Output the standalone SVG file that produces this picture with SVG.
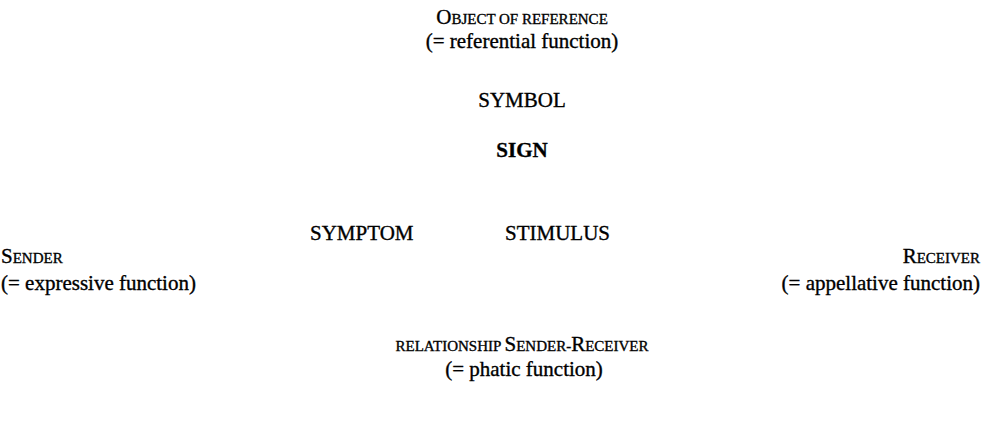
<svg xmlns="http://www.w3.org/2000/svg" width="990" height="430" viewBox="0 0 990 430">
<style>
text{font-family:'Liberation Serif','Times New Roman',serif;font-size:21px;fill:#000;stroke:#000;stroke-width:0.35}
.c{text-anchor:middle}
.e{text-anchor:end}
.sc{font-size:15px}
.b{font-weight:bold}
</style>
<rect width="990" height="430" fill="#fff"/>
<g id="connectors"></g>
<g id="object">
<text class="c" x="522" y="24">O<tspan class="sc">BJECT OF REFERENCE</tspan></text>
<text class="c" x="522" y="48">(= referential function)</text>
</g>
<g id="symbol"><text class="c" x="522" y="107">SYMBOL</text></g>
<g id="sign"><text class="c b" x="522" y="157">SIGN</text></g>
<g id="symptom"><text x="310" y="240">SYMPTOM</text></g>
<g id="stimulus"><text x="505" y="240">STIMULUS</text></g>
<g id="sender">
<text x="1" y="263">S<tspan class="sc">ENDER</tspan></text>
<text x="1" y="290">(= expressive function)</text>
</g>
<g id="receiver">
<text class="e" x="980" y="263">R<tspan class="sc">ECEIVER</tspan></text>
<text class="e" x="980" y="290">(= appellative function)</text>
</g>
<g id="relationship">
<text class="c" x="522" y="351"><tspan class="sc">RELATIONSHIP </tspan>S<tspan class="sc">ENDER-</tspan>R<tspan class="sc">ECEIVER</tspan></text>
<text class="c" x="524" y="376">(= phatic function)</text>
</g>
</svg>
